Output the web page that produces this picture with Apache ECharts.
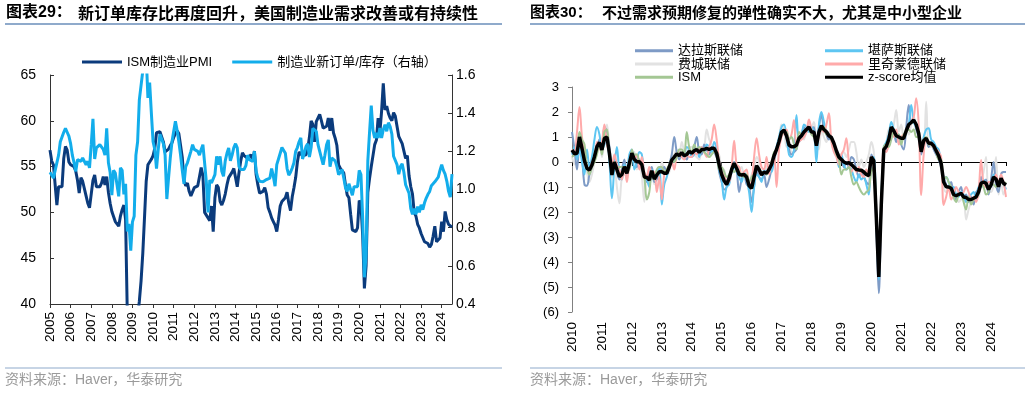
<!DOCTYPE html>
<html><head><meta charset="utf-8">
<script src="https://cdn.jsdelivr.net/npm/echarts@6/dist/echarts.min.js"></script>
<style>html,body{margin:0;padding:0;background:#fff;}#c{width:1030px;height:393px;}</style>
</head><body><div id="c"></div>
<script>
// ---------- Left chart: monthly from Jan 2005 ----------
const leftStartYear = 2005;
const ismPMI = [
56.8,55.6,55.2,53.0,50.8,52.8,52.8,52.8,55.9,57.2,56.8,55.5,
55.2,55.2,55.0,54.5,53.5,52.1,53.8,53.4,53.2,51.8,51.0,50.5,
50.7,53.5,54.1,52.8,52.8,52.8,53.2,53.9,53.0,53.9,52.2,51.0,
50.1,50.1,49.0,49.2,48.5,49.6,50.3,50.8,49.2,38.9,36.2,33.1,
34.0,35.5,36.3,38.5,40.3,42.5,45.5,49.4,53.4,55.2,55.4,55.8,
56.2,57.0,58.7,58.8,58.8,58.6,57.7,56.6,56.5,56.9,57.3,57.6,
58.2,58.6,58.9,58.6,57.3,56.0,53.5,52.9,53.2,52.3,51.8,51.8,
52.7,52.7,52.9,53.9,54.9,54.0,50.0,49.7,49.5,49.1,50.7,47.9,
51.6,53.0,52.7,51.2,50.8,51.3,52.0,53.0,53.8,54.0,54.4,54.8,
54.7,52.8,54.3,55.6,56.5,56.2,56.0,55.9,56.1,56.3,55.6,56.7,
54.1,53.0,52.1,51.9,52.3,52.7,52.0,50.5,50.0,49.4,49.0,48.6,
47.9,49.2,50.7,51.2,51.3,51.6,52.2,51.0,50.2,51.7,52.7,53.8,
55.5,56.6,56.5,56.2,56.1,56.3,56.9,58.2,60.0,59.6,57.7,59.9,
59.8,60.7,60.0,59.2,59.3,59.4,60.3,58.9,60.3,58.7,58.1,57.3,
55.2,54.8,54.8,54.3,53.0,51.9,51.6,49.8,48.1,48.0,47.9,48.3,
51.3,50.9,47.5,41.7,44.2,52.2,53.7,55.0,56.2,57.4,57.9,60.3,
58.7,61.0,64.1,61.2,61.6,60.8,60.3,60.0,60.9,60.5,60.7,58.3,
58.2,57.5,57.3,55.9,56.2,54.0,52.8,52.0,50.0,49.6,48.7,48.3,
47.7,47.6,46.8,46.9,46.6,46.2,46.5,47.4,48.5,46.8,46.7,47.2,
49.0,47.9,50.1,49.2,48.7,48.5,48.4
];
const newOrdersToInventory = [
1.09,1.09,1.06,1.10,1.10,1.18,1.25,1.245,1.30,1.32,1.30,1.28,
1.24,1.18,1.14,1.095,1.156,1.165,1.148,1.165,1.165,1.13,1.148,1.113,
1.235,1.37,1.16,1.218,1.226,1.235,1.23,1.21,1.18,1.32,1.14,1.09,
0.97,1.10,1.086,1.025,0.964,1.113,1.10,0.975,1.03,0.78,0.82,0.68,
0.83,0.86,1.18,1.25,1.47,1.47,1.62,1.74,1.70,1.48,1.56,1.40,
1.25,1.21,1.11,1.21,1.29,1.29,1.24,1.18,0.95,1.06,1.165,1.25,
1.305,1.357,1.31,1.25,1.18,1.10,1.03,1.12,1.14,1.14,1.20,1.235,
1.21,1.22,1.20,1.18,1.21,1.235,1.14,1.04,0.88,1.05,1.034,1.025,
1.078,1.174,1.13,1.174,1.095,1.069,1.15,1.19,1.218,1.15,1.18,1.22,
1.24,1.218,1.12,1.105,1.095,1.105,1.125,1.18,1.156,1.165,1.148,1.20,
1.095,1.06,1.043,1.034,1.04,1.034,1.052,1.05,1.06,1.11,1.07,1.017,
1.13,1.16,1.165,1.22,1.22,1.19,1.11,1.075,1.09,1.113,1.14,1.20,
1.22,1.25,1.27,1.16,1.19,1.225,1.24,1.17,1.22,1.32,1.33,1.305,
1.235,1.20,1.165,1.13,1.18,1.235,1.26,1.12,1.165,1.165,1.15,1.12,
1.078,1.09,1.105,1.06,1.01,0.99,1.03,1.00,0.97,1.015,1.015,1.015,
1.10,1.078,0.85,0.54,0.66,1.15,1.30,1.44,1.31,1.27,1.296,1.27,
1.322,1.27,1.313,1.34,1.305,1.35,1.33,1.29,1.174,1.165,1.13,1.08,
1.12,1.135,1.09,1.025,1.025,0.98,0.90,0.87,0.90,0.87,0.91,0.88,
0.92,0.894,0.93,0.955,0.975,0.99,1.02,1.03,1.04,1.05,1.065,1.10,
1.13,1.10,1.08,1.043,0.99,0.96,1.08
];

// ---------- Right chart: monthly from Jan 2010 ----------
const rightStartYear = 2010;
const dallasFed = [
1.2,0.5,-0.3,0.6,0.2,-0.9,-0.95,-0.5,-0.2,0.3,0.5,0.9,
0.6,1.4,1.2,0.6,-0.3,0.2,-0.4,-0.7,-0.3,0.1,-0.6,0.0,
0.2,0.3,-0.2,0.1,-0.3,-0.5,-0.8,-0.4,-0.2,-0.8,-0.7,-0.3,
-0.3,-0.2,-0.5,-0.1,0.3,1.0,0.4,0.1,0.3,0.2,0.1,0.4,
0.3,0.6,1.0,0.4,0.3,0.7,0.5,0.3,0.6,0.4,0.2,-0.4,
-0.8,-1.1,-1.0,-0.6,-0.4,0.0,-0.3,-1.2,-0.7,-0.5,-0.9,-1.0,
-1.6,-1.0,-0.3,-0.6,-0.7,-0.5,-1.0,-0.7,-0.3,0.0,0.5,0.7,
1.1,1.2,1.1,0.5,0.3,0.4,0.5,1.0,1.1,1.4,1.2,1.3,
1.2,1.4,0.5,1.4,1.9,1.3,1.1,0.9,1.0,0.7,0.3,0.1,
0.1,-0.2,0.0,-0.2,0.2,0.1,-0.3,-0.6,-0.4,-0.6,-0.8,-0.9,
0.3,0.0,-2.6,-5.25,-2.0,0.4,0.5,0.8,1.3,1.2,0.8,1.1,
0.7,0.5,1.4,2.28,1.6,1.7,1.3,1.0,0.3,0.8,0.9,0.6,
0.8,0.5,0.3,0.1,-0.2,-0.6,-0.9,-1.1,-0.8,-1.3,-1.5,-1.2,
-1.0,-1.5,-1.3,-1.6,-1.4,-1.7,-1.2,-1.1,-0.6,-1.0,-0.7,-1.3,
-0.7,0.0,-0.9,-1.2,-0.5,-0.4,-0.4
];
const kansasFed = [
0.3,0.6,0.1,0.5,0.0,-0.5,0.5,-0.2,0.2,0.9,1.4,1.1,
0.5,0.7,0.9,0.0,-1.45,-0.2,0.6,-0.4,-0.7,-0.1,-0.3,0.3,
0.5,-0.3,0.0,0.4,0.3,-0.5,-0.7,-1.0,-0.3,-0.6,-0.4,-0.2,
-1.7,-0.9,-0.6,-0.2,0.1,0.0,0.3,0.4,0.2,0.3,0.6,0.5,
0.2,0.3,0.5,0.2,0.6,0.4,0.7,0.6,0.4,0.8,0.5,-0.3,
-0.7,-1.5,-1.0,-0.9,-0.4,-0.2,-0.4,-0.6,-0.8,-0.4,-0.7,-1.2,
-2.0,-1.0,-0.5,-0.6,-0.8,-0.3,-0.5,-0.2,-0.4,0.1,0.6,1.0,
1.4,1.5,1.0,0.3,0.2,0.5,1.88,0.8,1.0,1.5,1.4,1.2,
1.4,1.2,0.0,1.5,2.0,1.6,1.2,1.1,0.9,0.7,0.4,-0.2,
0.3,-0.1,-0.3,-0.2,-0.3,-0.6,-0.8,-0.5,-0.7,-0.6,-0.9,-1.3,
0.1,0.2,-2.3,-4.7,-1.5,0.6,0.8,1.1,1.6,1.3,1.0,0.9,
1.0,1.0,1.2,1.5,2.28,1.6,1.4,1.2,0.6,1.0,1.3,1.35,
0.9,0.8,0.6,0.5,0.0,-0.7,-0.6,-0.8,-1.1,-1.0,-1.3,-1.4,
-1.2,-1.3,-1.6,-1.4,-1.3,-1.2,-1.5,-1.0,-1.0,-0.7,-0.9,-1.0,
-1.0,-0.5,-0.6,-0.8,-0.7,-0.9,-1.1
];
const phillyFed = [
0.2,-0.1,0.4,0.9,0.6,0.3,-0.4,-0.8,-0.5,0.0,0.4,0.8,
0.2,0.9,1.5,0.6,-0.6,-0.2,-1.0,-1.65,-0.6,-0.5,-0.4,-0.3,
0.1,0.4,-0.3,-0.1,-0.6,-1.6,-0.5,-0.9,-0.5,-0.9,-0.3,-0.6,
0.0,-0.3,-0.5,-0.4,0.2,0.3,0.5,0.3,0.8,0.4,0.2,0.6,
0.6,0.3,0.2,0.1,0.5,0.6,1.3,0.9,0.7,0.4,0.2,0.3,
-0.6,-0.3,-0.9,-0.5,-0.3,0.0,-0.2,-0.3,-0.2,-0.6,-0.5,-0.8,
-0.5,-0.3,0.2,0.0,-0.5,-0.5,-0.2,-0.1,0.0,0.3,0.4,0.9,
1.5,1.3,0.6,0.8,0.4,0.4,0.6,0.9,1.2,0.9,1.3,1.5,
1.4,1.6,0.8,0.5,1.3,1.0,0.8,1.2,1.0,0.8,0.5,0.3,
0.3,0.4,0.2,0.5,0.8,0.8,0.4,-0.2,0.1,-0.2,0.0,0.3,
0.8,0.4,-1.8,-4.3,-1.4,0.3,0.7,1.3,1.2,1.5,2.08,1.2,
1.5,0.9,1.3,1.1,1.5,1.8,1.4,0.9,0.8,0.5,2.41,0.6,
0.6,0.7,0.4,0.2,-0.3,-1.0,-1.2,-1.0,-0.9,-1.5,-1.3,-1.6,
-1.5,-1.4,-2.3,-1.9,-1.6,-1.4,-1.3,-1.4,-0.8,-0.4,0.2,-1.2,
-1.2,-0.9,0.2,-1.3,-0.8,-1.3,-1.0
];
const richmondFed = [
0.5,0.4,1.2,2.2,1.0,0.4,-0.2,-0.4,0.0,0.1,0.8,0.5,
0.8,1.5,0.7,0.4,-0.2,0.3,-0.1,-0.3,-0.7,-0.2,-0.8,0.0,
0.4,0.1,0.3,-0.3,0.2,-0.4,-0.6,-0.2,-0.4,-0.4,-1.2,-0.6,
-1.5,-0.5,-0.4,-0.2,0.0,-0.3,0.3,0.4,0.2,0.1,0.3,0.2,
0.2,0.4,0.3,0.5,0.6,0.4,0.2,0.6,0.9,1.5,0.9,0.0,
-0.4,-0.5,-0.8,-0.8,-0.2,0.85,-0.1,-0.2,-0.5,-0.4,-0.3,-0.9,
-0.8,0.2,0.95,0.3,-0.2,-0.3,0.2,-0.5,0.0,0.3,-1.0,0.5,
1.0,1.2,1.3,0.9,1.1,1.68,0.6,0.8,0.9,1.0,1.2,1.7,
1.3,1.0,0.8,1.0,1.3,1.2,1.5,1.95,0.8,0.4,0.2,-0.1,
0.3,0.5,0.95,0.0,-0.4,-0.2,-0.4,-0.2,-0.5,-0.6,-0.3,-0.6,
0.2,-0.2,-2.2,-4.5,-1.9,0.6,0.4,0.7,1.2,1.0,1.3,0.7,
1.0,1.1,1.2,1.4,1.6,1.8,2.55,1.5,-1.32,0.3,0.9,0.8,
0.7,0.6,0.5,0.4,0.2,-1.72,-1.4,-1.0,-1.5,-1.3,-1.0,-1.2,
-1.3,-1.2,-1.0,-1.2,-1.5,-1.4,-1.6,-1.2,0.08,-0.9,-1.0,-0.8,
-0.8,-0.7,-0.5,-0.9,-0.5,-0.8,-1.4
];
const ismZ = [
0.2,0.3,0.4,1.2,0.9,0.7,-0.2,-0.5,-0.2,0.0,0.3,0.7,
0.3,1.2,1.3,0.2,-0.2,0.0,-0.3,-0.2,-0.2,-0.3,-0.2,-0.3,
0.5,0.3,0.3,0.0,-0.1,-0.6,-1.5,-1.2,-0.4,-0.7,-0.3,-0.2,
-0.2,-0.4,-0.3,-0.1,0.1,0.0,0.2,0.5,0.5,0.3,1.2,0.6,
0.4,0.7,0.5,0.6,0.5,0.4,0.3,0.2,0.3,0.4,0.3,-0.3,
-0.2,-0.4,-0.6,-0.5,-0.3,-0.4,-0.3,-0.4,-0.5,-0.6,-0.5,-0.8,
-0.6,-0.5,-0.2,-0.3,-0.4,-0.4,-0.5,-0.3,0.0,0.4,0.5,0.8,
1.1,1.2,1.2,0.9,1.0,0.7,0.5,1.2,1.1,1.2,1.3,1.3,
1.1,1.0,0.9,1.2,1.3,1.4,1.1,1.1,0.9,0.7,0.3,0.1,
-0.5,-0.3,-0.3,-0.2,-0.6,-0.9,-0.8,-1.0,-1.2,-1.3,-1.2,-1.1,
-0.4,-0.2,-2.1,-4.3,-1.7,0.6,0.7,0.6,0.9,1.2,1.0,1.1,
0.7,1.1,1.2,1.3,1.2,1.3,1.0,1.0,0.6,0.9,1.0,0.7,
0.7,0.6,0.4,0.1,0.1,-0.7,-0.6,-0.8,-1.0,-1.4,-1.6,-1.3,
-1.25,-1.6,-1.9,-1.4,-1.7,-1.5,-1.4,-1.3,-0.9,-1.0,-1.3,-1.2,
-0.9,-0.9,-1.0,-0.8,-0.7,-0.9,-0.8
];
const zScoreMean = [
0.48,0.33,0.35,1.0,0.55,0.05,-0.25,-0.32,-0.12,0.21,0.61,0.78,
0.48,0.95,1.0,0.35,-0.52,0.0,-0.3,-0.59,-0.5,-0.19,-0.45,-0.05,
0.35,0.1,0.01,0.01,-0.1,-0.6,-0.62,-0.72,-0.35,-0.68,-0.52,-0.39,
-0.39,-0.45,-0.45,-0.2,0.08,0.2,0.33,0.25,0.38,0.25,0.3,0.43,
0.35,0.45,0.5,0.38,0.5,0.5,0.55,0.5,0.55,0.55,0.35,-0.1,
-0.5,-0.75,-0.9,-0.65,-0.3,-0.05,-0.25,-0.5,-0.52,-0.5,-0.6,-0.95,
-1.05,-0.6,-0.15,-0.3,-0.52,-0.4,-0.45,-0.3,-0.1,0.25,0.5,0.82,
1.2,1.28,1.05,0.68,0.61,0.61,0.68,0.95,1.05,1.2,1.3,1.4,
1.2,1.2,0.65,1.2,1.45,1.3,1.21,1.05,0.98,0.75,0.45,0.2,
0.1,0.0,-0.05,-0.03,-0.1,-0.2,-0.3,-0.32,-0.33,-0.4,-0.5,-0.55,
0.2,0.05,-2.2,-4.6,-1.7,0.5,0.62,0.9,1.4,1.25,1.05,1.0,
0.95,0.95,1.25,1.5,1.58,1.68,1.5,1.15,0.41,0.85,0.95,0.75,
0.75,0.65,0.45,0.25,-0.05,-0.8,-0.99,-1.0,-1.05,-1.3,-1.35,-1.3,
-1.25,-1.4,-1.42,-1.5,-1.5,-1.45,-1.4,-1.2,-0.85,-0.8,-0.85,-1.1,
-0.92,-0.6,-0.68,-0.99,-0.65,-0.85,-0.92
];

const FONT = "'Liberation Sans', 'Noto Sans CJK SC', sans-serif";
const CJK = "'Noto Sans CJK SC', 'Liberation Sans', sans-serif";
const monthly = (arr, start) => arr.map((v, i) => [start + i / 12, v]);
const yearLabel = v => (Math.abs(v - Math.round(v)) < 1e-6 ? String(Math.round(v)) : '');

const chart = echarts.init(document.getElementById('c'), null, {renderer: 'canvas'});
const faint = (name, arr, color) => ({
  name, type: 'line', xAxisIndex: 1, yAxisIndex: 2, data: monthly(arr, rightStartYear),
  showSymbol: false, smooth: 0.35, color, lineStyle: {color, width: 2}, clip: true
});

chart.setOption({
  animation: false,
  textStyle: {fontFamily: FONT},
  grid: [
    {left: 50, top: 75, width: 402, height: 229},
    {left: 572, top: 87, width: 434, height: 225}
  ],
  xAxis: [
    {gridIndex: 0, type: 'value', min: 2005, max: 2024.5, interval: 1,
     axisLine: {lineStyle: {color: '#333'}}, axisTick: {length: 4, lineStyle: {color: '#333'}},
     splitLine: {show: false},
     axisLabel: {rotate: 90, margin: 8, fontSize: 13.5, color: '#000', fontFamily: FONT, formatter: yearLabel, showMaxLabel: false}},
    {gridIndex: 1, type: 'value', position: 'top', min: 2010, max: 2024.5, interval: 1,
     axisLine: {onZero: true, lineStyle: {color: '#000', width: 1}},
     axisTick: {inside: true, length: 4, lineStyle: {color: '#000'}},
     splitLine: {show: false}, axisLabel: {show: false}},
    {gridIndex: 1, type: 'value', position: 'bottom', min: 2010, max: 2024.5, interval: 1,
     axisLine: {show: false, onZero: false}, axisTick: {show: false}, splitLine: {show: false},
     axisLabel: {rotate: 90, margin: 10, fontSize: 13.5, color: '#000', fontFamily: FONT, formatter: yearLabel, showMaxLabel: false}}
  ],
  yAxis: [
    {gridIndex: 0, type: 'value', min: 40, max: 65, interval: 5,
     axisLine: {show: true, lineStyle: {color: '#333'}}, axisTick: {show: true, inside: true, length: 4, lineStyle: {color: '#333'}},
     splitLine: {show: false}, axisLabel: {fontSize: 14, color: '#000', margin: 14, fontFamily: FONT}},
    {gridIndex: 0, type: 'value', position: 'right', min: 0.4, max: 1.6, interval: 0.2,
     axisLine: {show: true, lineStyle: {color: '#333'}}, axisTick: {show: true, inside: true, length: 4, lineStyle: {color: '#333'}},
     splitLine: {show: false}, axisLabel: {fontSize: 14, color: '#000', margin: 4, fontFamily: FONT, formatter: v => v.toFixed(1)}},
    {gridIndex: 1, type: 'value', min: -6, max: 3, interval: 1,
     axisLine: {show: true, lineStyle: {color: '#808080'}}, axisTick: {show: true, length: 4, lineStyle: {color: '#808080'}},
     splitLine: {show: false},
     axisLabel: {fontSize: 13, color: '#000', margin: 13, fontFamily: FONT, formatter: v => v < 0 ? '(' + (-v) + ')' : String(v)}}
  ],
  legend: [
    {left: 77, top: 50, icon: 'rect', itemWidth: 40, itemHeight: 3, itemGap: 20,
     textStyle: {fontSize: 13, color: '#000', fontFamily: FONT, lineHeight: 14},
     data: ['ISM制造业PMI', '制造业新订单/库存（右轴）']},
    {orient: 'vertical', left: 630, top: 39, icon: 'rect', itemWidth: 38, itemHeight: 3, itemGap: 0,
     textStyle: {fontSize: 13, color: '#000', fontFamily: FONT, lineHeight: 13.3},
     data: ['达拉斯联储', '费城联储', 'ISM']},
    {orient: 'vertical', left: 820, top: 39, icon: 'rect', itemWidth: 38, itemHeight: 3, itemGap: 0,
     textStyle: {fontSize: 13, color: '#000', fontFamily: FONT, lineHeight: 13.3},
     data: ['堪萨斯联储', '里奇蒙德联储', 'z-score均值']}
  ],
  graphic: [
    {type: 'text', left: 6, top: 5, style: {text: '图表29：', font: "bold 16px " + FONT, fill: '#000'}},
    {type: 'text', left: 78, top: 5, style: {text: '新订单库存比再度回升，美国制造业需求改善或有持续性', font: "bold 16px " + CJK, fill: '#000'}},
    {type: 'line', shape: {x1: 5, y1: 24, x2: 502, y2: 24}, style: {stroke: '#8FAACB', lineWidth: 2}},
    {type: 'text', left: 530, top: 5, style: {text: '图表30：', font: "bold 15px " + FONT, fill: '#000'}},
    {type: 'text', left: 602, top: 5, style: {text: '不过需求预期修复的弹性确实不大，尤其是中小型企业', font: "bold 15px " + CJK, fill: '#000'}},
    {type: 'line', shape: {x1: 530, y1: 24, x2: 1025, y2: 24}, style: {stroke: '#8FAACB', lineWidth: 2}},
    {type: 'line', shape: {x1: 5, y1: 368, x2: 502, y2: 368}, style: {stroke: '#8FAACB', lineWidth: 1}},
    {type: 'line', shape: {x1: 530, y1: 368, x2: 1025, y2: 368}, style: {stroke: '#8FAACB', lineWidth: 1}},
    {type: 'text', left: 5, top: 373, style: {text: '资料来源：Haver，华泰研究', font: "14px " + FONT, fill: '#9a9a9a'}},
    {type: 'text', left: 530, top: 373, style: {text: '资料来源：Haver，华泰研究', font: "14px " + FONT, fill: '#9a9a9a'}}
  ],
  series: [
    {name: 'ISM制造业PMI', type: 'line', xAxisIndex: 0, yAxisIndex: 0, data: monthly(ismPMI, leftStartYear),
     showSymbol: false, color: '#0B3B7C', lineStyle: {color: '#0B3B7C', width: 3}, clip: true},
    {name: '制造业新订单/库存（右轴）', type: 'line', xAxisIndex: 0, yAxisIndex: 1, data: monthly(newOrdersToInventory, leftStartYear),
     showSymbol: false, color: '#12ADEB', lineStyle: {color: '#12ADEB', width: 3}, clip: true},
    faint('费城联储', phillyFed, '#E2E2E2'),
    faint('达拉斯联储', dallasFed, '#7E9BC6'),
    faint('堪萨斯联储', kansasFed, '#5EC6F2'),
    faint('里奇蒙德联储', richmondFed, '#FFAAAA'),
    faint('ISM', ismZ, '#A4C794'),
    {name: 'z-score均值', type: 'line', xAxisIndex: 1, yAxisIndex: 2, data: monthly(zScoreMean, rightStartYear),
     showSymbol: false, color: '#000', lineStyle: {color: '#000', width: 3.5}, clip: true}
  ]
});
</script>
</body></html>
